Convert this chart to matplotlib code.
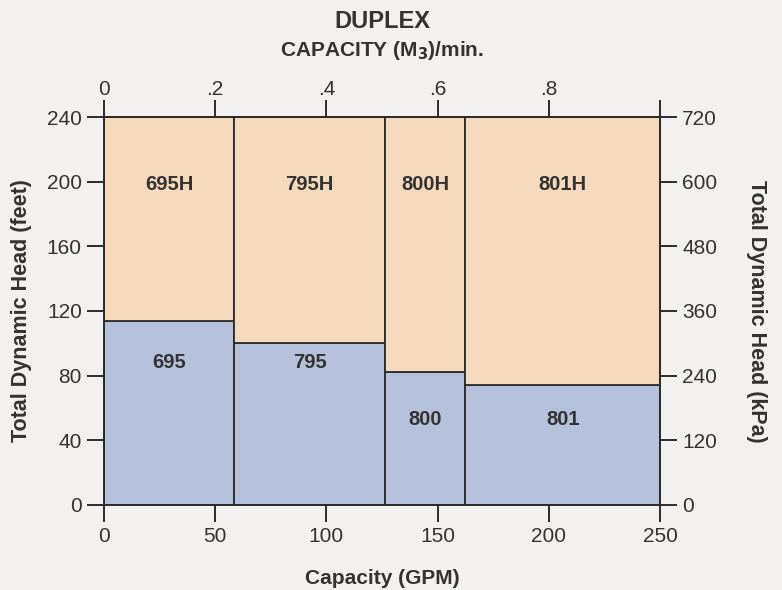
import matplotlib.pyplot as plt

plt.rcParams['font.family'] = ['Liberation Sans', 'DejaVu Sans']

# pump models and their capacity ranges (GPM)
models = ["695", "795", "800", "801"]
edges = [0, 58.5, 126.5, 162.5, 250]
low_head = [114, 100, 82, 74]      # top of the standard (blue) zone, feet
max_head = 240                     # top of the H (peach) zone, feet
low_label_y = [88, 88, 53, 53]
high_label_y = [198, 198, 198, 198]

x_ticks = [0, 50, 100, 150, 200, 250]
y_ticks = [0, 40, 80, 120, 160, 200, 240]
kpa_ticks = [0, 120, 240, 360, 480, 600, 720]
m3_ticks = [0, 0.2, 0.4, 0.6, 0.8, 1.0]
m3_labels = ["0", ".2", ".4", ".6", ".8", ""]

bg = "#f3f1f0"
blue = "#b5c0da"
peach = "#f4d9bc"
ink = "#2b2b2b"
txt = "#333333"


def main():
    fig = plt.figure(figsize=(7.82, 5.9), dpi=100, facecolor=bg)
    ax = fig.add_axes([104 / 782, 85 / 590, 556 / 782, 388 / 590])
    ax.set_facecolor(bg)

    lefts = edges[:-1]
    widths = [b - a for a, b in zip(edges[:-1], edges[1:])]
    highs = [max_head - h for h in low_head]

    ax.bar(lefts, low_head, width=widths, align="edge", color=blue,
           edgecolor=ink, linewidth=1.3, zorder=2)
    ax.bar(lefts, highs, bottom=low_head, width=widths, align="edge",
           color=peach, edgecolor=ink, linewidth=1.3, zorder=2)

    for i, m in enumerate(models):
        cx = lefts[i] + widths[i] / 2
        ax.text(cx, high_label_y[i], m + "H", ha="center", va="center",
                fontsize=14.5, fontweight="bold", color=txt, zorder=3)
        ax.text(cx, low_label_y[i], m, ha="center", va="center",
                fontsize=14.5, fontweight="bold", color=txt, zorder=3)

    ax.set_xlim(0, 250)
    ax.set_ylim(0, 240)
    ax.set_xticks(x_ticks)
    ax.set_yticks(y_ticks)
    for s in ax.spines.values():
        s.set_color(ink)
        s.set_linewidth(1.4)
    ax.tick_params(direction="out", length=12, width=1.4, color=ink,
                   labelsize=15, labelcolor=txt, pad=4)

    ax_r = ax.secondary_yaxis("right", functions=(lambda y: y * 3, lambda k: k / 3))
    ax_r.set_yticks(kpa_ticks)
    ax_r.spines["right"].set_color(ink)
    ax_r.spines["right"].set_linewidth(1.4)
    ax_r.tick_params(direction="out", length=12, width=1.4, color=ink,
                     labelsize=15, labelcolor=txt, pad=4)

    ax_t = ax.secondary_xaxis("top", functions=(lambda g: g / 250, lambda m: m * 250))
    ax_t.set_xticks(m3_ticks)
    ax_t.set_xticklabels(m3_labels)
    ax_t.spines["top"].set_color(ink)
    ax_t.spines["top"].set_linewidth(1.4)
    ax_t.tick_params(direction="out", length=12, width=1.4, color=ink,
                     labelsize=15, labelcolor=txt, pad=1)

    cx = 382 / 782
    fig.text(cx, 1 - 22 / 590, "DUPLEX", ha="center", va="center",
             fontsize=17, fontweight="bold", color=txt)
    fig.text(cx, 1 - 50 / 590, "CAPACITY (M$_\\mathbf{3}$)/min.", ha="center",
             va="center", fontsize=15, fontweight="bold", color=txt)
    fig.text(cx, 1 - 578 / 590, "Capacity (GPM)", ha="center", va="center",
             fontsize=15, fontweight="bold", color=txt)
    fig.text(22 / 782, 1 - 311 / 590, "Total Dynamic Head (feet)", ha="center",
             va="center", rotation=90, fontsize=15.5, fontweight="bold", color=txt)
    fig.text(757 / 782, 1 - 311 / 590, "Total Dynamic Head (kPa)", ha="center",
             va="center", rotation=270, fontsize=15.5, fontweight="bold", color=txt)

    fig.savefig("out.png", dpi=100, facecolor=bg)


if __name__ == "__main__":
    main()
